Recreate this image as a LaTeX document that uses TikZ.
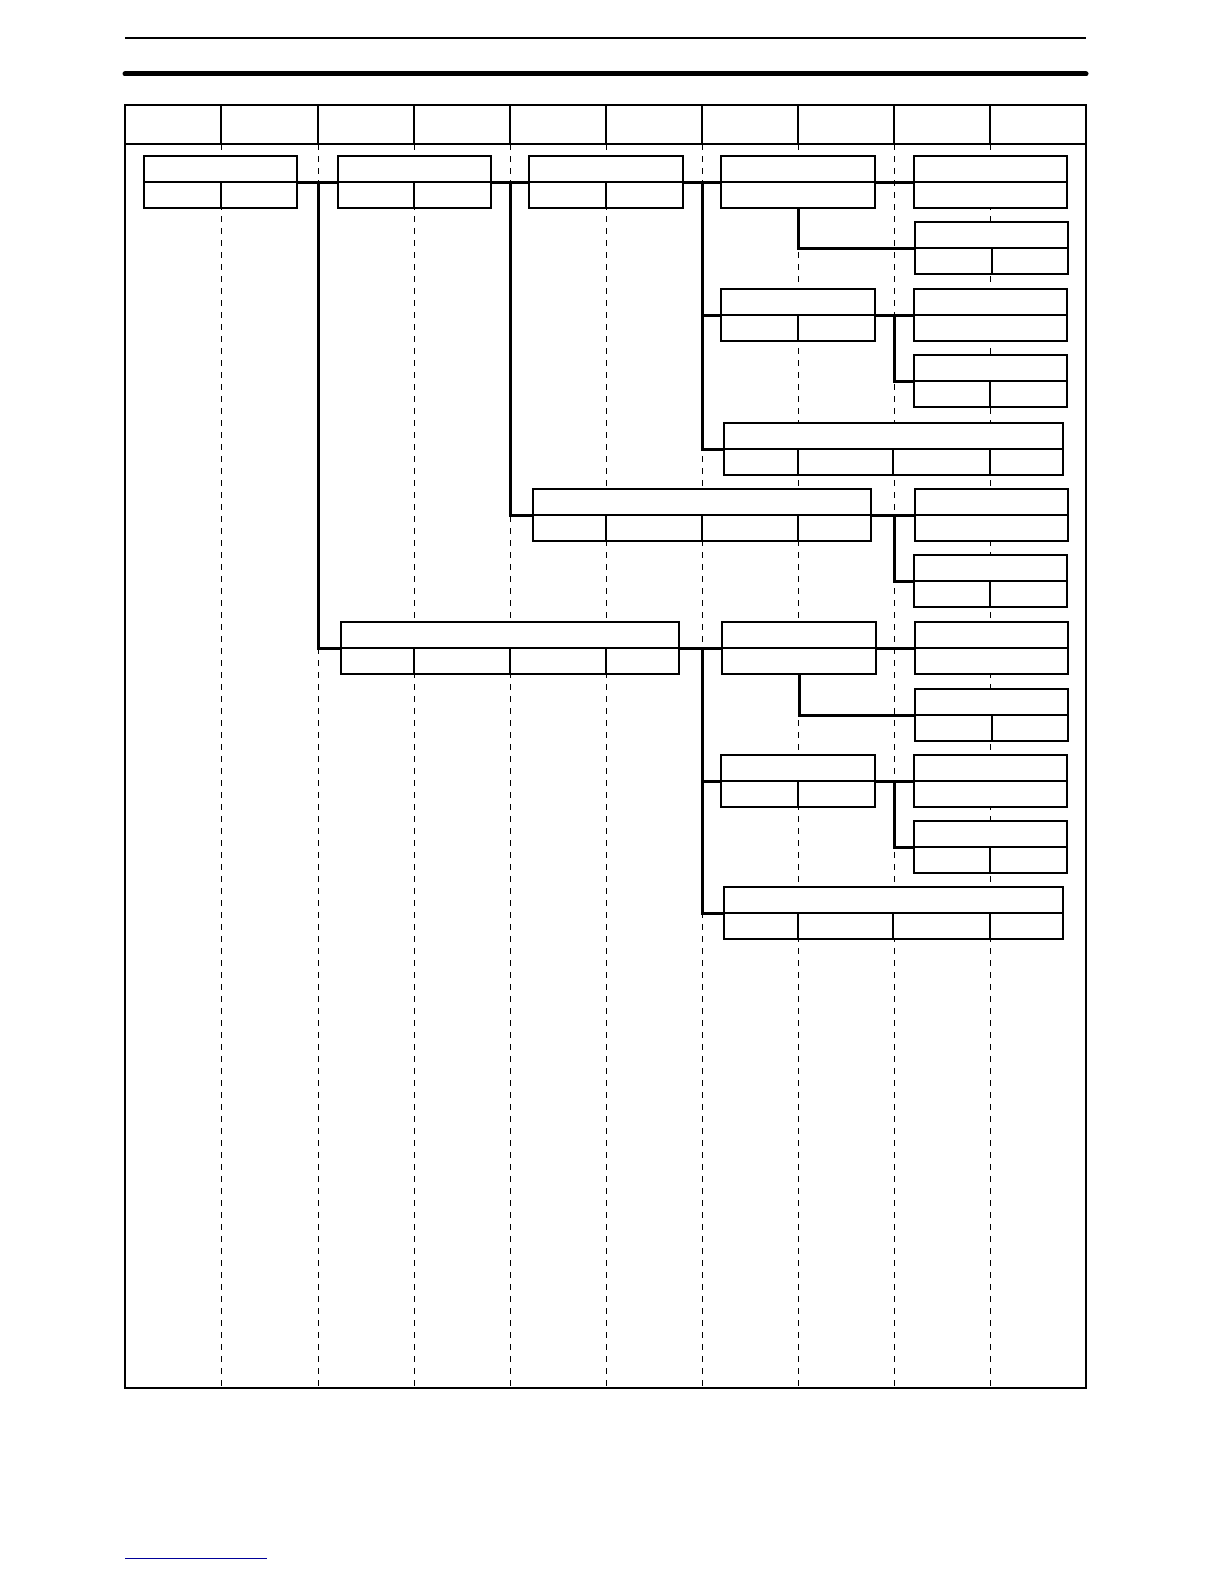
\documentclass[tikz,border=0pt]{standalone}
\begin{document}
\begin{tikzpicture}[x=1pt,y=-1pt,
  box/.style={draw,line width=2pt,rectangle,inner sep=0pt,outer sep=0pt,anchor=north west},
  inner/.style={line width=1.6pt},
  conn/.style={line width=3pt},
  guide/.style={line width=1pt,dash pattern=on 6pt off 6pt}]
\useasboundingbox (0,0) rectangle (1224,1584);
\draw[line width=1.5pt] (125,38) -- (1086,38);
\draw[line width=5pt,line cap=round] (125,74) -- (1086,74);
\foreach \x in {221,318,414,510,606,702,798,894,990}{
  \draw[line width=1.6pt] (\x,105) -- (\x,144);
  \draw[guide] (\x,144) -- (\x,1388);}
\node[box,minimum width=961pt,minimum height=1283pt,fill=none] (frame) at (125,105) {};
\draw[line width=1.6pt] (125,144) -- (1086,144);
\draw[line width=1pt,blue!60!black] (125,1558) -- (267,1558);
\newcommand\bxa[5]{\node[box,fill=white,minimum width=#4pt-#2pt,minimum height=#5pt-#3pt] (#1) at (#2,#3) {};
  \draw[inner] (#1.west) -- (#1.east);}
\newcommand\bx[6]{\bxa{#1}{#2}{#3}{#4}{#5}
  \foreach \s in {#6}{\draw[inner] (\s,#3/2+#5/2) -- (\s,#5);}}
\bx{b1}{144}{156}{297}{208}{221}
\bx{b2}{338}{156}{491}{208}{414}
\bx{b3}{529}{156}{683}{208}{606}
\bxa{b4}{721}{156}{875}{208}
\bxa{b5}{914}{156}{1067}{208}
\bx{b6}{915}{222}{1068}{274}{992}
\bx{b7}{721}{289}{875}{341}{798}
\bxa{b8}{914}{289}{1067}{341}
\bx{b9}{914}{355}{1067}{407}{990}
\bx{b10}{724}{423}{1063}{475}{798,893,990}
\bx{b11}{533}{489}{871}{541}{606,702,798}
\bxa{b12}{915}{489}{1068}{541}
\bx{b13}{914}{555}{1067}{607}{990}
\bx{b14}{341}{622}{679}{674}{414,510,606}
\bxa{b15}{722}{622}{876}{674}
\bxa{b16}{915}{622}{1068}{674}
\bx{b17}{915}{689}{1068}{741}{992}
\bx{b18}{721}{755}{875}{807}{798}
\bxa{b19}{914}{755}{1067}{807}
\bx{b20}{914}{821}{1067}{873}{990}
\bx{b21}{724}{887}{1063}{939}{798,893,990}
\coordinate (j1) at (318,182);
\coordinate (j2) at (510,182);
\coordinate (j3) at (702,182);
\coordinate (j4) at (894,315);
\coordinate (j5) at (894,515);
\coordinate (j6) at (702,648);
\coordinate (j7) at (894,781);
\draw[conn] (b1.east) -- (b2.west);
\draw[conn] (j1) |- (b14.west);
\draw[conn] (b2.east) -- (b3.west);
\draw[conn] (j2) |- (b11.west);
\draw[conn] (b3.east) -- (b4.west);
\draw[conn] (j3) |- (b7.west);
\draw[conn] (j3) |- (b10.west);
\draw[conn] (b4.east) -- (b5.west);
\draw[conn] (b4.south) |- (b6.west);
\draw[conn] (b7.east) -- (b8.west);
\draw[conn] (j4) |- (b9.west);
\draw[conn] (b11.east) -- (b12.west);
\draw[conn] (j5) |- (b13.west);
\draw[conn] (b14.east) -- (b15.west);
\draw[conn] (j6) |- (b18.west);
\draw[conn] (j6) |- (b21.west);
\draw[conn] (b15.east) -- (b16.west);
\draw[conn] (b15.south) |- (b17.west);
\draw[conn] (b18.east) -- (b19.west);
\draw[conn] (j7) |- (b20.west);
\end{tikzpicture}
\end{document}
